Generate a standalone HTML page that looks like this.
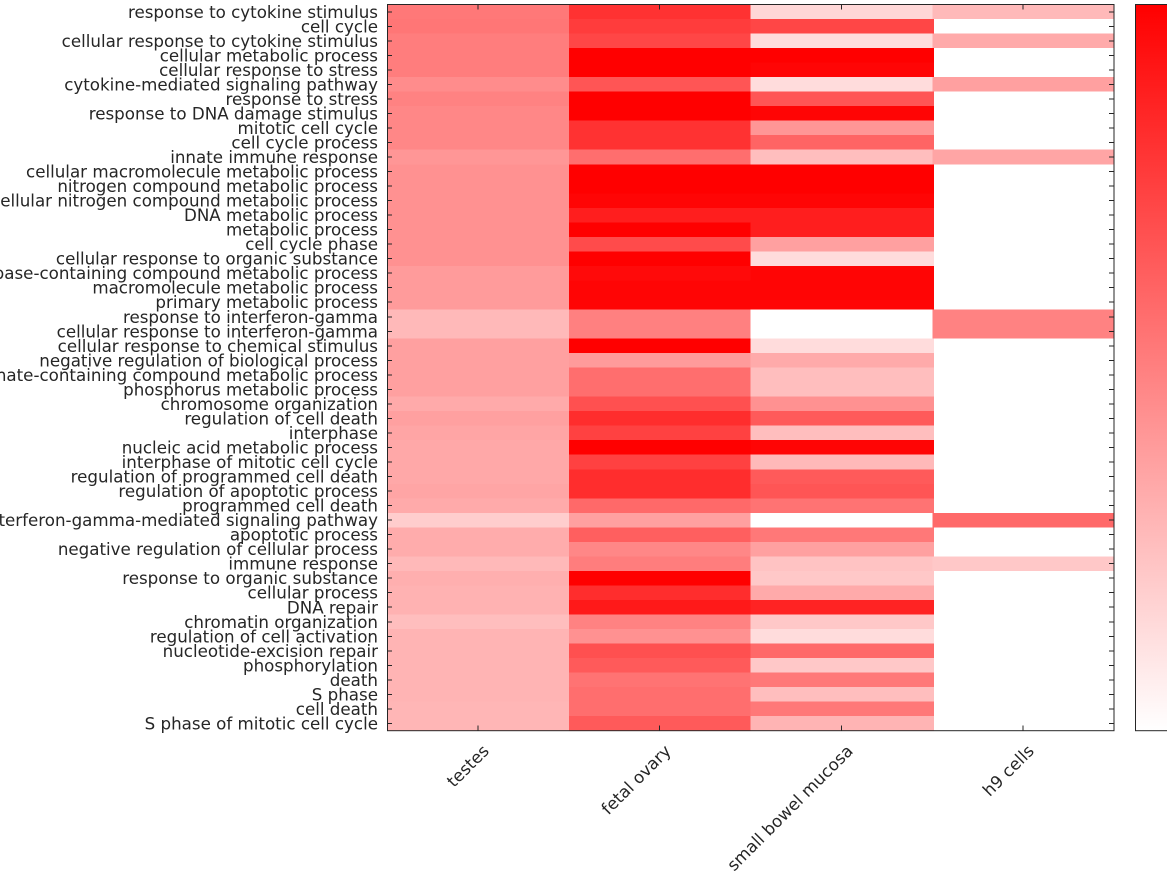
<!DOCTYPE html>
<html><head><meta charset="utf-8"><style>
html,body{margin:0;padding:0;background:#fff;}
svg{display:block;}
text{font-family:"DejaVu Sans","Liberation Sans",sans-serif;font-size:16.7px;fill:#262626;}
</style></head><body>
<svg width="1167" height="875" viewBox="0 0 1167 875" xmlns="http://www.w3.org/2000/svg">
<defs><linearGradient id="cb" x1="0" y1="0" x2="0" y2="1"><stop offset="0" stop-color="#ff0000"/><stop offset="1" stop-color="#ffffff"/></linearGradient></defs>
<rect width="1167" height="875" fill="#fff"/>
<g transform="translate(387,4.5) scale(181.75,14.524)" shape-rendering="crispEdges">
<!-- col 1 testes -->
<rect x="0" y="0" width="1.01" height="1.05" fill="rgb(255,120,120)"/>
<rect x="0" y="1" width="1.01" height="1.05" fill="rgb(255,118,118)"/>
<rect x="0" y="2" width="1.01" height="1.05" fill="rgb(255,125,125)"/>
<rect x="0" y="3" width="1.01" height="1.05" fill="rgb(255,125,125)"/>
<rect x="0" y="4" width="1.01" height="1.05" fill="rgb(255,125,125)"/>
<rect x="0" y="5" width="1.01" height="1.05" fill="rgb(255,140,140)"/>
<rect x="0" y="6" width="1.01" height="1.05" fill="rgb(255,130,130)"/>
<rect x="0" y="7" width="1.01" height="1.05" fill="rgb(255,135,135)"/>
<rect x="0" y="8" width="1.01" height="1.05" fill="rgb(255,135,135)"/>
<rect x="0" y="9" width="1.01" height="1.05" fill="rgb(255,135,135)"/>
<rect x="0" y="10" width="1.01" height="1.05" fill="rgb(255,150,150)"/>
<rect x="0" y="11" width="1.01" height="1.05" fill="rgb(255,145,145)"/>
<rect x="0" y="12" width="1.01" height="1.05" fill="rgb(255,145,145)"/>
<rect x="0" y="13" width="1.01" height="1.05" fill="rgb(255,145,145)"/>
<rect x="0" y="14" width="1.01" height="1.05" fill="rgb(255,145,145)"/>
<rect x="0" y="15" width="1.01" height="1.05" fill="rgb(255,145,145)"/>
<rect x="0" y="16" width="1.01" height="1.05" fill="rgb(255,145,145)"/>
<rect x="0" y="17" width="1.01" height="1.05" fill="rgb(255,145,145)"/>
<rect x="0" y="18" width="1.01" height="1.05" fill="rgb(255,155,155)"/>
<rect x="0" y="19" width="1.01" height="1.05" fill="rgb(255,155,155)"/>
<rect x="0" y="20" width="1.01" height="1.05" fill="rgb(255,155,155)"/>
<rect x="0" y="21" width="1.01" height="1.05" fill="rgb(255,185,185)"/>
<rect x="0" y="22" width="1.01" height="1.05" fill="rgb(255,185,185)"/>
<rect x="0" y="23" width="1.01" height="1.05" fill="rgb(255,160,160)"/>
<rect x="0" y="24" width="1.01" height="1.05" fill="rgb(255,160,160)"/>
<rect x="0" y="25" width="1.01" height="1.05" fill="rgb(255,160,160)"/>
<rect x="0" y="26" width="1.01" height="1.05" fill="rgb(255,160,160)"/>
<rect x="0" y="27" width="1.01" height="1.05" fill="rgb(255,170,170)"/>
<rect x="0" y="28" width="1.01" height="1.05" fill="rgb(255,160,160)"/>
<rect x="0" y="29" width="1.01" height="1.05" fill="rgb(255,165,165)"/>
<rect x="0" y="30" width="1.01" height="1.05" fill="rgb(255,168,168)"/>
<rect x="0" y="31" width="1.01" height="1.05" fill="rgb(255,168,168)"/>
<rect x="0" y="32" width="1.01" height="1.05" fill="rgb(255,168,168)"/>
<rect x="0" y="33" width="1.01" height="1.05" fill="rgb(255,165,165)"/>
<rect x="0" y="34" width="1.01" height="1.05" fill="rgb(255,170,170)"/>
<rect x="0" y="35" width="1.01" height="1.05" fill="rgb(255,205,205)"/>
<rect x="0" y="36" width="1.01" height="1.05" fill="rgb(255,172,172)"/>
<rect x="0" y="37" width="1.01" height="1.05" fill="rgb(255,172,172)"/>
<rect x="0" y="38" width="1.01" height="1.05" fill="rgb(255,185,185)"/>
<rect x="0" y="39" width="1.01" height="1.05" fill="rgb(255,175,175)"/>
<rect x="0" y="40" width="1.01" height="1.05" fill="rgb(255,178,178)"/>
<rect x="0" y="41" width="1.01" height="1.05" fill="rgb(255,178,178)"/>
<rect x="0" y="42" width="1.01" height="1.05" fill="rgb(255,190,190)"/>
<rect x="0" y="43" width="1.01" height="1.05" fill="rgb(255,180,180)"/>
<rect x="0" y="44" width="1.01" height="1.05" fill="rgb(255,180,180)"/>
<rect x="0" y="45" width="1.01" height="1.05" fill="rgb(255,180,180)"/>
<rect x="0" y="46" width="1.01" height="1.05" fill="rgb(255,180,180)"/>
<rect x="0" y="47" width="1.01" height="1.05" fill="rgb(255,180,180)"/>
<rect x="0" y="48" width="1.01" height="1.05" fill="rgb(255,182,182)"/>
<rect x="0" y="49" width="1.01" height="1" fill="rgb(255,182,182)"/>
<!-- col 2 fetal ovary -->
<rect x="1" y="0" width="1.01" height="1.05" fill="rgb(255,50,50)"/>
<rect x="1" y="1" width="1.01" height="1.05" fill="rgb(255,60,60)"/>
<rect x="1" y="2" width="1.01" height="1.05" fill="rgb(255,70,70)"/>
<rect x="1" y="3" width="1.01" height="1.05" fill="rgb(255,0,0)"/>
<rect x="1" y="4" width="1.01" height="1.05" fill="rgb(255,0,0)"/>
<rect x="1" y="5" width="1.01" height="1.05" fill="rgb(255,85,85)"/>
<rect x="1" y="6" width="1.01" height="1.05" fill="rgb(255,0,0)"/>
<rect x="1" y="7" width="1.01" height="1.05" fill="rgb(255,0,0)"/>
<rect x="1" y="8" width="1.01" height="1.05" fill="rgb(255,50,50)"/>
<rect x="1" y="9" width="1.01" height="1.05" fill="rgb(255,50,50)"/>
<rect x="1" y="10" width="1.01" height="1.05" fill="rgb(255,110,110)"/>
<rect x="1" y="11" width="1.01" height="1.05" fill="rgb(255,0,0)"/>
<rect x="1" y="12" width="1.01" height="1.05" fill="rgb(255,0,0)"/>
<rect x="1" y="13" width="1.01" height="1.05" fill="rgb(255,5,5)"/>
<rect x="1" y="14" width="1.01" height="1.05" fill="rgb(255,30,30)"/>
<rect x="1" y="15" width="1.01" height="1.05" fill="rgb(255,0,0)"/>
<rect x="1" y="16" width="1.01" height="1.05" fill="rgb(255,75,75)"/>
<rect x="1" y="17" width="1.01" height="1.05" fill="rgb(255,0,0)"/>
<rect x="1" y="18" width="1.01" height="1.05" fill="rgb(255,10,10)"/>
<rect x="1" y="19" width="1.01" height="1.05" fill="rgb(255,5,5)"/>
<rect x="1" y="20" width="1.01" height="1.05" fill="rgb(255,5,5)"/>
<rect x="1" y="21" width="1.01" height="1.05" fill="rgb(255,128,128)"/>
<rect x="1" y="22" width="1.01" height="1.05" fill="rgb(255,128,128)"/>
<rect x="1" y="23" width="1.01" height="1.05" fill="rgb(255,0,0)"/>
<rect x="1" y="24" width="1.01" height="1.05" fill="rgb(255,155,155)"/>
<rect x="1" y="25" width="1.01" height="1.05" fill="rgb(255,110,110)"/>
<rect x="1" y="26" width="1.01" height="1.05" fill="rgb(255,110,110)"/>
<rect x="1" y="27" width="1.01" height="1.05" fill="rgb(255,80,80)"/>
<rect x="1" y="28" width="1.01" height="1.05" fill="rgb(255,45,45)"/>
<rect x="1" y="29" width="1.01" height="1.05" fill="rgb(255,65,65)"/>
<rect x="1" y="30" width="1.01" height="1.05" fill="rgb(255,0,0)"/>
<rect x="1" y="31" width="1.01" height="1.05" fill="rgb(255,65,65)"/>
<rect x="1" y="32" width="1.01" height="1.05" fill="rgb(255,45,45)"/>
<rect x="1" y="33" width="1.01" height="1.05" fill="rgb(255,45,45)"/>
<rect x="1" y="34" width="1.01" height="1.05" fill="rgb(255,105,105)"/>
<rect x="1" y="35" width="1.01" height="1.05" fill="rgb(255,160,160)"/>
<rect x="1" y="36" width="1.01" height="1.05" fill="rgb(255,95,95)"/>
<rect x="1" y="37" width="1.01" height="1.05" fill="rgb(255,135,135)"/>
<rect x="1" y="38" width="1.01" height="1.05" fill="rgb(255,125,125)"/>
<rect x="1" y="39" width="1.01" height="1.05" fill="rgb(255,0,0)"/>
<rect x="1" y="40" width="1.01" height="1.05" fill="rgb(255,45,45)"/>
<rect x="1" y="41" width="1.01" height="1.05" fill="rgb(255,25,25)"/>
<rect x="1" y="42" width="1.01" height="1.05" fill="rgb(255,130,130)"/>
<rect x="1" y="43" width="1.01" height="1.05" fill="rgb(255,145,145)"/>
<rect x="1" y="44" width="1.01" height="1.05" fill="rgb(255,80,80)"/>
<rect x="1" y="45" width="1.01" height="1.05" fill="rgb(255,90,90)"/>
<rect x="1" y="46" width="1.01" height="1.05" fill="rgb(255,115,115)"/>
<rect x="1" y="47" width="1.01" height="1.05" fill="rgb(255,110,110)"/>
<rect x="1" y="48" width="1.01" height="1.05" fill="rgb(255,110,110)"/>
<rect x="1" y="49" width="1.01" height="1" fill="rgb(255,90,90)"/>
<!-- col 3 small bowel mucosa -->
<rect x="2" y="0" width="1.01" height="1.05" fill="rgb(255,215,215)"/>
<rect x="2" y="1" width="1.01" height="1.05" fill="rgb(255,70,70)"/>
<rect x="2" y="2" width="1.01" height="1.05" fill="rgb(255,220,220)"/>
<rect x="2" y="3" width="1.01" height="1.05" fill="rgb(255,0,0)"/>
<rect x="2" y="4" width="1.01" height="1.05" fill="rgb(255,5,5)"/>
<rect x="2" y="5" width="1.01" height="1.05" fill="rgb(255,220,220)"/>
<rect x="2" y="6" width="1.01" height="1.05" fill="rgb(255,85,85)"/>
<rect x="2" y="7" width="1.01" height="1.05" fill="rgb(255,5,5)"/>
<rect x="2" y="8" width="1.01" height="1.05" fill="rgb(255,150,150)"/>
<rect x="2" y="9" width="1.01" height="1.05" fill="rgb(255,100,100)"/>
<rect x="2" y="10" width="1.01" height="1.05" fill="rgb(255,190,190)"/>
<rect x="2" y="11" width="1.01" height="1.05" fill="rgb(255,0,0)"/>
<rect x="2" y="12" width="1.01" height="1.05" fill="rgb(255,0,0)"/>
<rect x="2" y="13" width="1.01" height="1.05" fill="rgb(255,5,5)"/>
<rect x="2" y="14" width="1.01" height="1.05" fill="rgb(255,30,30)"/>
<rect x="2" y="15" width="1.01" height="1.05" fill="rgb(255,30,30)"/>
<rect x="2" y="16" width="1.01" height="1.05" fill="rgb(255,160,160)"/>
<rect x="2" y="17" width="1.01" height="1.05" fill="rgb(255,220,220)"/>
<rect x="2" y="18" width="1.01" height="1.05" fill="rgb(255,5,5)"/>
<rect x="2" y="19" width="1.01" height="1.05" fill="rgb(255,5,5)"/>
<rect x="2" y="20" width="1.01" height="1.05" fill="rgb(255,5,5)"/>
<rect x="2" y="21" width="1.01" height="1.05" fill="rgb(255,255,255)"/>
<rect x="2" y="22" width="1.01" height="1.05" fill="rgb(255,255,255)"/>
<rect x="2" y="23" width="1.01" height="1.05" fill="rgb(255,220,220)"/>
<rect x="2" y="24" width="1.01" height="1.05" fill="rgb(255,170,170)"/>
<rect x="2" y="25" width="1.01" height="1.05" fill="rgb(255,190,190)"/>
<rect x="2" y="26" width="1.01" height="1.05" fill="rgb(255,190,190)"/>
<rect x="2" y="27" width="1.01" height="1.05" fill="rgb(255,145,145)"/>
<rect x="2" y="28" width="1.01" height="1.05" fill="rgb(255,90,90)"/>
<rect x="2" y="29" width="1.01" height="1.05" fill="rgb(255,190,190)"/>
<rect x="2" y="30" width="1.01" height="1.05" fill="rgb(255,5,5)"/>
<rect x="2" y="31" width="1.01" height="1.05" fill="rgb(255,185,185)"/>
<rect x="2" y="32" width="1.01" height="1.05" fill="rgb(255,90,90)"/>
<rect x="2" y="33" width="1.01" height="1.05" fill="rgb(255,85,85)"/>
<rect x="2" y="34" width="1.01" height="1.05" fill="rgb(255,115,115)"/>
<rect x="2" y="35" width="1.01" height="1.05" fill="rgb(255,255,255)"/>
<rect x="2" y="36" width="1.01" height="1.05" fill="rgb(255,120,120)"/>
<rect x="2" y="37" width="1.01" height="1.05" fill="rgb(255,160,160)"/>
<rect x="2" y="38" width="1.01" height="1.05" fill="rgb(255,195,195)"/>
<rect x="2" y="39" width="1.01" height="1.05" fill="rgb(255,200,200)"/>
<rect x="2" y="40" width="1.01" height="1.05" fill="rgb(255,170,170)"/>
<rect x="2" y="41" width="1.01" height="1.05" fill="rgb(255,35,35)"/>
<rect x="2" y="42" width="1.01" height="1.05" fill="rgb(255,200,200)"/>
<rect x="2" y="43" width="1.01" height="1.05" fill="rgb(255,220,220)"/>
<rect x="2" y="44" width="1.01" height="1.05" fill="rgb(255,105,105)"/>
<rect x="2" y="45" width="1.01" height="1.05" fill="rgb(255,200,200)"/>
<rect x="2" y="46" width="1.01" height="1.05" fill="rgb(255,120,120)"/>
<rect x="2" y="47" width="1.01" height="1.05" fill="rgb(255,190,190)"/>
<rect x="2" y="48" width="1.01" height="1.05" fill="rgb(255,120,120)"/>
<rect x="2" y="49" width="1.01" height="1" fill="rgb(255,180,180)"/>
<!-- col 4 h9 cells -->
<rect x="3" y="0" width="1" height="1" fill="rgb(255,185,185)"/>
<rect x="3" y="2" width="1" height="1" fill="rgb(255,170,170)"/>
<rect x="3" y="5" width="1" height="1" fill="rgb(255,160,160)"/>
<rect x="3" y="10" width="1" height="1" fill="rgb(255,165,165)"/>
<rect x="3" y="21" width="1" height="2" fill="rgb(255,130,130)"/>
<rect x="3" y="35" width="1" height="1" fill="rgb(255,105,105)"/>
<rect x="3" y="38" width="1" height="1" fill="rgb(255,200,200)"/>
<!-- ticks -->
<path vector-effect="non-scaling-stroke" stroke="#262626" stroke-width="1" fill="none" d="M0,0.5h0.0275M0,1.5h0.0275M0,2.5h0.0275M0,3.5h0.0275M0,4.5h0.0275M0,5.5h0.0275M0,6.5h0.0275M0,7.5h0.0275M0,8.5h0.0275M0,9.5h0.0275M0,10.5h0.0275M0,11.5h0.0275M0,12.5h0.0275M0,13.5h0.0275M0,14.5h0.0275M0,15.5h0.0275M0,16.5h0.0275M0,17.5h0.0275M0,18.5h0.0275M0,19.5h0.0275M0,20.5h0.0275M0,21.5h0.0275M0,22.5h0.0275M0,23.5h0.0275M0,24.5h0.0275M0,25.5h0.0275M0,26.5h0.0275M0,27.5h0.0275M0,28.5h0.0275M0,29.5h0.0275M0,30.5h0.0275M0,31.5h0.0275M0,32.5h0.0275M0,33.5h0.0275M0,34.5h0.0275M0,35.5h0.0275M0,36.5h0.0275M0,37.5h0.0275M0,38.5h0.0275M0,39.5h0.0275M0,40.5h0.0275M0,41.5h0.0275M0,42.5h0.0275M0,43.5h0.0275M0,44.5h0.0275M0,45.5h0.0275M0,46.5h0.0275M0,47.5h0.0275M0,48.5h0.0275M0,49.5h0.0275
M4,0.5h-0.0275M4,1.5h-0.0275M4,2.5h-0.0275M4,3.5h-0.0275M4,4.5h-0.0275M4,5.5h-0.0275M4,6.5h-0.0275M4,7.5h-0.0275M4,8.5h-0.0275M4,9.5h-0.0275M4,10.5h-0.0275M4,11.5h-0.0275M4,12.5h-0.0275M4,13.5h-0.0275M4,14.5h-0.0275M4,15.5h-0.0275M4,16.5h-0.0275M4,17.5h-0.0275M4,18.5h-0.0275M4,19.5h-0.0275M4,20.5h-0.0275M4,21.5h-0.0275M4,22.5h-0.0275M4,23.5h-0.0275M4,24.5h-0.0275M4,25.5h-0.0275M4,26.5h-0.0275M4,27.5h-0.0275M4,28.5h-0.0275M4,29.5h-0.0275M4,30.5h-0.0275M4,31.5h-0.0275M4,32.5h-0.0275M4,33.5h-0.0275M4,34.5h-0.0275M4,35.5h-0.0275M4,36.5h-0.0275M4,37.5h-0.0275M4,38.5h-0.0275M4,39.5h-0.0275M4,40.5h-0.0275M4,41.5h-0.0275M4,42.5h-0.0275M4,43.5h-0.0275M4,44.5h-0.0275M4,45.5h-0.0275M4,46.5h-0.0275M4,47.5h-0.0275M4,48.5h-0.0275M4,49.5h-0.0275
M0.5,0v0.35M1.5,0v0.35M2.5,0v0.35M3.5,0v0.35M0.5,50v-0.35M1.5,50v-0.35M2.5,50v-0.35M3.5,50v-0.35"/>
</g>
<rect x="387.5" y="4.5" width="726.5" height="726.2" fill="none" stroke="#262626" stroke-width="1"/>
<rect x="1135.5" y="4.5" width="40" height="726.2" fill="url(#cb)" stroke="#262626" stroke-width="1"/>
<g text-anchor="end">
<text x="378" y="17.8">response to cytokine stimulus</text>
<text x="378" y="32.3">cell cycle</text>
<text x="378" y="46.8">cellular response to cytokine stimulus</text>
<text x="378" y="61.3">cellular metabolic process</text>
<text x="378" y="75.9">cellular response to stress</text>
<text x="378" y="90.4">cytokine-mediated signaling pathway</text>
<text x="378" y="104.9">response to stress</text>
<text x="378" y="119.4">response to DNA damage stimulus</text>
<text x="378" y="133.9">mitotic cell cycle</text>
<text x="378" y="148.5">cell cycle process</text>
<text x="378" y="163.0">innate immune response</text>
<text x="378" y="177.5">cellular macromolecule metabolic process</text>
<text x="378" y="192.0">nitrogen compound metabolic process</text>
<text x="378" y="206.6">cellular nitrogen compound metabolic process</text>
<text x="378" y="221.1">DNA metabolic process</text>
<text x="378" y="235.6">metabolic process</text>
<text x="378" y="250.1">cell cycle phase</text>
<text x="378" y="264.7">cellular response to organic substance</text>
<text x="378" y="279.2">nucleobase-containing compound metabolic process</text>
<text x="378" y="293.7">macromolecule metabolic process</text>
<text x="378" y="308.2">primary metabolic process</text>
<text x="378" y="322.8">response to interferon-gamma</text>
<text x="378" y="337.3">cellular response to interferon-gamma</text>
<text x="378" y="351.8">cellular response to chemical stimulus</text>
<text x="378" y="366.3">negative regulation of biological process</text>
<text x="378" y="380.9">phosphate-containing compound metabolic process</text>
<text x="378" y="395.4">phosphorus metabolic process</text>
<text x="378" y="409.9">chromosome organization</text>
<text x="378" y="424.4">regulation of cell death</text>
<text x="378" y="439.0">interphase</text>
<text x="378" y="453.5">nucleic acid metabolic process</text>
<text x="378" y="468.0">interphase of mitotic cell cycle</text>
<text x="378" y="482.5">regulation of programmed cell death</text>
<text x="378" y="497.1">regulation of apoptotic process</text>
<text x="378" y="511.6">programmed cell death</text>
<text x="378" y="526.1">interferon-gamma-mediated signaling pathway</text>
<text x="378" y="540.6">apoptotic process</text>
<text x="378" y="555.2">negative regulation of cellular process</text>
<text x="378" y="569.7">immune response</text>
<text x="378" y="584.2">response to organic substance</text>
<text x="378" y="598.7">cellular process</text>
<text x="378" y="613.3">DNA repair</text>
<text x="378" y="627.8">chromatin organization</text>
<text x="378" y="642.3">regulation of cell activation</text>
<text x="378" y="656.8">nucleotide-excision repair</text>
<text x="378" y="671.3">phosphorylation</text>
<text x="378" y="685.9">death</text>
<text x="378" y="700.4">S phase</text>
<text x="378" y="714.9">cell death</text>
<text x="378" y="729.4">S phase of mitotic cell cycle</text>
<text transform="translate(490,752) rotate(-45)">testes</text>
<text transform="translate(672,752) rotate(-45)">fetal ovary</text>
<text transform="translate(854,752) rotate(-45)">small bowel mucosa</text>
<text transform="translate(1035,752) rotate(-45)">h9 cells</text>
</g>
</svg>
</body></html>
